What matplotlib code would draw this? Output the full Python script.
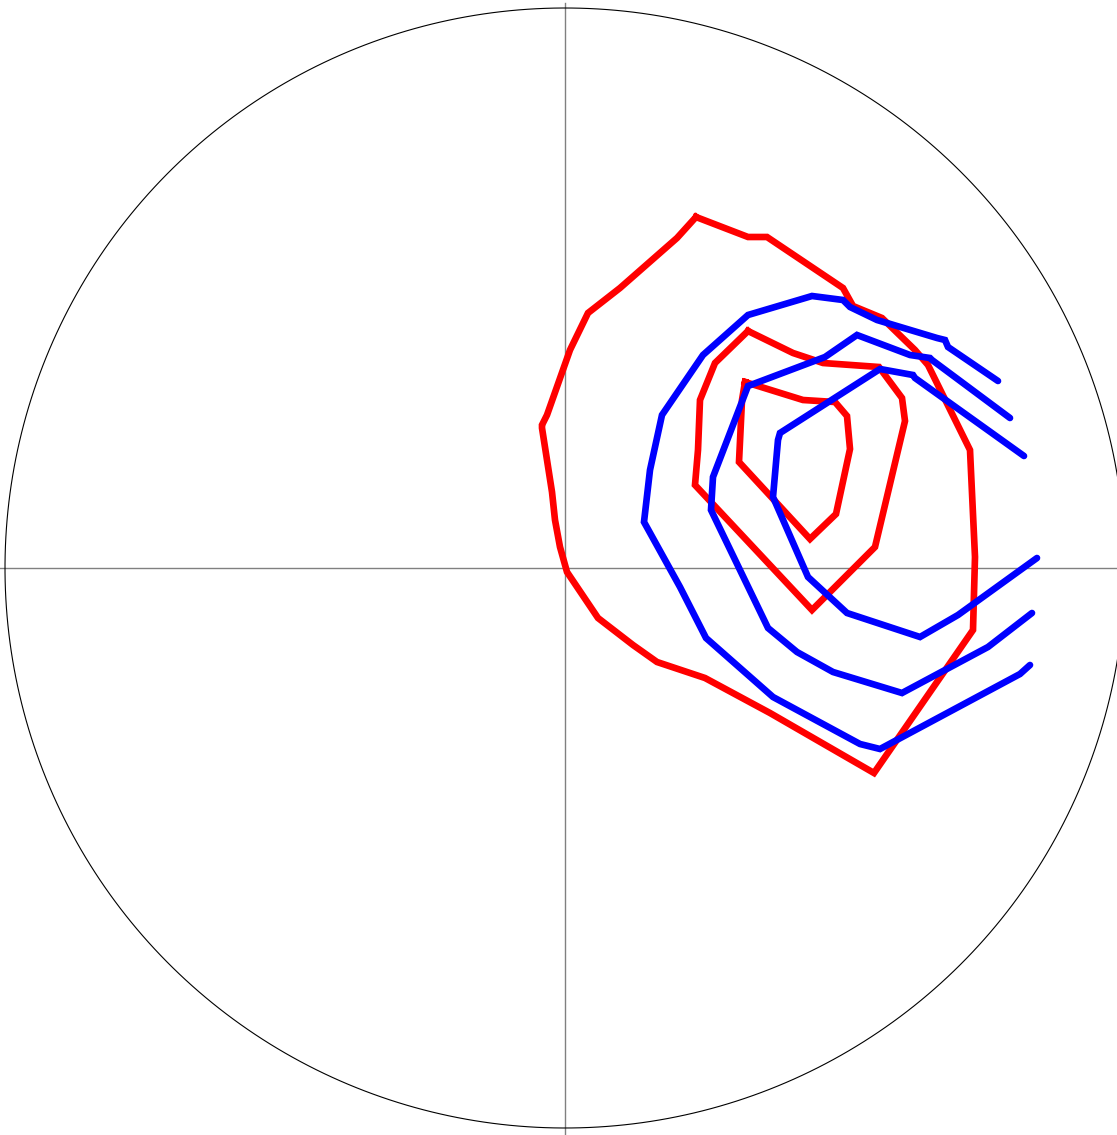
import numpy as np
import matplotlib
matplotlib.use("Agg")
import matplotlib.pyplot as plt

# coordinates relative to the centre, circle radius = 560
circle_r = 560

red_outer_x = [131, 183, 202, 278, 288, 317, 350, 363, 405, 410, 408, 309, 205, 140, 92, 68, 33, 2, -5, -10, -13, -23, -23, -18, 5, 23, 55, 112, 131]
red_outer_y = [351, 331, 331, 280, 262, 250, 218, 203, 118, 11, -62, -205, -145, -110, -94, -77, -50, -4, 21, 48, 76, 140, 143, 153, 218, 255, 280, 330, 351]

red_mid_x = [183, 228, 258, 314, 337, 340, 310, 247, 130, 133, 135, 150, 183]
red_mid_y = [237, 215, 205, 201, 170, 147, 21, -42, 83, 118, 168, 205, 237]

red_inner_x = [180, 238, 270, 282, 285, 271, 245, 174, 177, 180]
red_inner_y = [186, 168, 166, 152, 119, 54, 29, 106, 168, 186]

blue_outer_x = [433, 383, 380, 372, 312, 285, 278, 247, 183, 138, 97, 85, 79, 115, 141, 208, 295, 315, 455, 465]
blue_outer_y = [187, 221, 228, 230, 248, 261, 268, 272, 253, 213, 153, 98, 46, -19, -70, -129, -176, -181, -106, -97]

blue_mid_x = [445, 367, 365, 345, 292, 260, 183, 148, 146, 203, 232, 268, 337, 423, 467]
blue_mid_y = [150, 208, 210, 213, 233, 211, 182, 91, 58, -60, -84, -104, -125, -79, -45]

blue_inner_x = [459, 350, 348, 315, 215, 213, 208, 243, 282, 355, 393, 472]
blue_inner_y = [112, 190, 193, 199, 135, 128, 71, -9, -45, -69, -47, 10]

fig = plt.figure(figsize=(11.17, 11.35), dpi=100)
ax = fig.add_axes([0, 0, 1, 1])
ax.set_xlim(-565, 552)
ax.set_ylim(-567, 568)
ax.set_aspect('equal')
ax.axis('off')

# crosshair
ax.plot([0, 0], [-567, 565], color='#808080', lw=1.0)
ax.plot([-565, 552], [0, 0], color='#808080', lw=1.0)

# outer circle
t = np.linspace(0, 2 * np.pi, 400)
ax.plot(circle_r * np.cos(t), circle_r * np.sin(t), color='black', lw=0.8)

lw = 4.8
for xs, ys in [(red_outer_x, red_outer_y), (red_mid_x, red_mid_y), (red_inner_x, red_inner_y)]:
    ax.plot(xs, ys, color='red', lw=lw, solid_joinstyle='miter')

for xs, ys in [(blue_outer_x, blue_outer_y), (blue_mid_x, blue_mid_y), (blue_inner_x, blue_inner_y)]:
    ax.plot(xs, ys, color='blue', lw=lw, solid_capstyle='round', solid_joinstyle='miter')

fig.savefig('out.png', dpi=100)
